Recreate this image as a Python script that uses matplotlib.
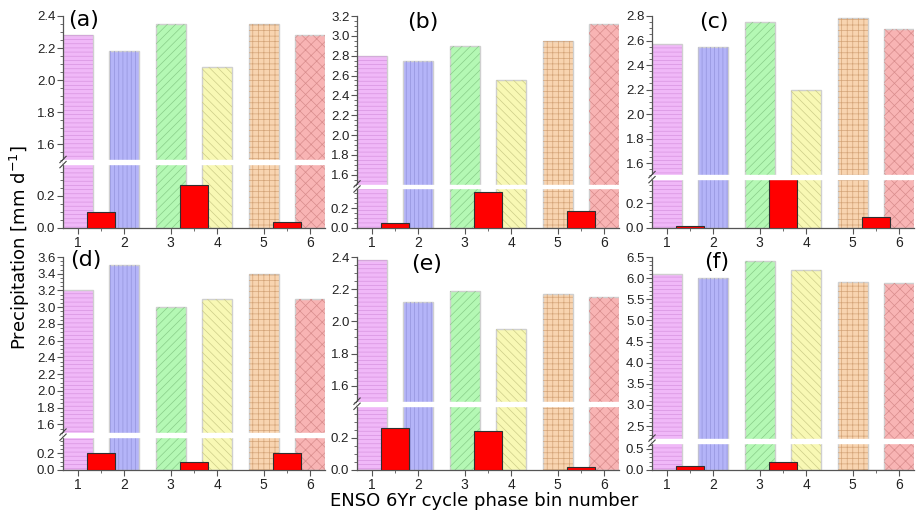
import numpy as np
import matplotlib
matplotlib.use('Agg')
import matplotlib.pyplot as plt

# bin numbers and the two series of each panel
bins = [1, 2, 3, 4, 5, 6]
red_x = [1.5, 3.5, 5.5]

tall_a = [2.28, 2.18, 2.35, 2.08, 2.35, 2.28]
tall_b = [2.80, 2.75, 2.90, 2.55, 2.95, 3.12]
tall_c = [2.57, 2.55, 2.75, 2.20, 2.78, 2.69]
tall_d = [3.20, 3.50, 3.00, 3.10, 3.40, 3.10]
tall_e = [2.38, 2.12, 2.19, 1.95, 2.17, 2.15]
tall_f = [6.10, 6.00, 6.40, 6.20, 5.90, 5.88]

red_a = [0.10, 0.27, 0.04]
red_b = [0.05, 0.36, 0.17]
red_c = [0.02, 0.40, 0.09]
red_d = [0.20, 0.10, 0.20]
red_e = [0.26, 0.24, 0.02]
red_f = [0.10, 0.20, 0.01]

panel_names = ['(a)', '(b)', '(c)', '(d)', '(e)', '(f)']
# (lower segment top, upper segment bottom, top of axis, tick step)
breaks = [(0.4, 1.5, 2.4, 0.2), (0.4, 1.5, 3.2, 0.2), (0.4, 1.5, 2.8, 0.2),
          (0.4, 1.5, 3.6, 0.2), (0.4, 1.5, 2.4, 0.2), (0.65, 2.2, 6.5, 0.5)]
upper_first = [1.6, 1.6, 1.6, 1.6, 1.6, 2.5]

fills = ['#f0b8f8', '#b4b4f8', '#b4f8b4', '#f8f8b4', '#f8d4b0', '#f8b4b4']
hatch_cols = ['#d794e0', '#9494dc', '#88cc88', '#cccc88', '#d4a478', '#d88c8c']
hatches = ['----', '||||', '////', '\\\\\\\\', '+++', 'xxx']

plt.rcParams['hatch.linewidth'] = 0.5
plt.rcParams['font.family'] = ['DejaVu Sans']


def broken_scale(lo, hi, gap):
    def fwd(y):
        y = np.asarray(y, float)
        return np.where(y <= lo, y,
                        np.where(y >= hi, y - (hi - lo) + gap,
                                 lo + (y - lo) * gap / (hi - lo)))

    def inv(t):
        t = np.asarray(t, float)
        return np.where(t <= lo, t,
                        np.where(t >= lo + gap, t + (hi - lo) - gap,
                                 lo + (t - lo) * (hi - lo) / gap))
    return fwd, inv


fig = plt.figure(figsize=(9.21, 5.13), dpi=100)
W, H = 921, 513
lefts = [63, 357, 652]
rows = [(16, 228), (257, 470)]
label_pos = [(84, 20), (423, 22), (714, 22), (86, 260), (427, 264), (717, 262)]

talls = [tall_a, tall_b, tall_c, tall_d, tall_e, tall_f]
reds = [red_a, red_b, red_c, red_d, red_e, red_f]

for i in range(6):
    r, c = divmod(i, 3)
    top, bot = rows[r]
    ax = fig.add_axes([lefts[c] / W, 1 - bot / H, 262 / W, (bot - top) / H])
    lo, hi, ymax, step = breaks[i]
    gap = 0.018 * (ymax - hi + lo)
    fwd, inv = broken_scale(lo, hi, gap)
    ax.set_yscale('function', functions=(fwd, inv))

    for j, b in enumerate(bins):
        ax.bar(b, talls[i][j], width=0.64, color=fills[j], edgecolor='#cfcfcf',
               linewidth=1.0, zorder=1)
        ax.bar(b, talls[i][j], width=0.64, facecolor='none', edgecolor=hatch_cols[j],
               hatch=hatches[j], linewidth=0, zorder=1.5)
    ax.bar(red_x, reds[i], width=0.62, color='#ff0000', edgecolor='#303030',
           linewidth=0.8, zorder=3)

    ax.set_xlim(0.68, 6.32)
    ax.set_ylim(0, ymax)
    ax.axhspan(lo, hi, color='white', zorder=4)

    lower_ticks = np.arange(0, lo - 1e-6, step)
    upper_ticks = np.arange(upper_first[i], ymax + 1e-6, step)
    ax.set_yticks(np.concatenate([lower_ticks, upper_ticks]))
    ax.set_yticklabels(['%.1f' % t for t in np.concatenate([lower_ticks, upper_ticks])])
    mstep = step / 4 if step < 0.3 else 0.1
    minor = np.concatenate([np.arange(0, lo - 1e-6, mstep),
                            np.arange(hi + 1e-6, ymax + 1e-6, mstep)])
    ax.set_yticks(minor, minor=True)
    ax.set_xticks(bins)
    ax.set_xticks(red_x, minor=True)

    for s in ['top', 'right']:
        ax.spines[s].set_visible(False)
    for s in ['left', 'bottom']:
        ax.spines[s].set_color('#555555')
        ax.spines[s].set_linewidth(0.9)
    ax.tick_params(axis='both', which='major', length=4, width=0.8, color='#555555',
                   pad=1.5, labelcolor='#222222')
    ax.tick_params(axis='both', which='minor', length=2, width=0.6, color='#555555')
    for lab in ax.get_yticklabels():
        lab.set_fontfamily('Liberation Sans')
        lab.set_fontsize(9.5)
    for lab in ax.get_xticklabels():
        lab.set_fontfamily('Liberation Sans')
        lab.set_fontsize(10)

    # break marks on the left spine
    yb = (lo + gap / 2) / float(fwd(ymax))
    for dy in (-0.012, 0.012):
        ax.plot([-0.012, 0.012], [yb + dy - 0.015, yb + dy + 0.015], color='#444444',
                lw=0.8, transform=ax.transAxes, clip_on=False, zorder=6)

    px, py = label_pos[i]
    fig.text(px / W, 1 - py / H, panel_names[i], fontsize=16, ha='center', va='center')

fig.text(20 / W, 1 - 248 / H, 'Precipitation [mm d$^{-1}$]', rotation=90,
         fontsize=13, ha='center', va='center')
fig.text(484 / W, 1 - 501 / H, 'ENSO 6Yr cycle phase bin number', fontsize=13,
         ha='center', va='center')

fig.savefig('out.png', dpi=100)
